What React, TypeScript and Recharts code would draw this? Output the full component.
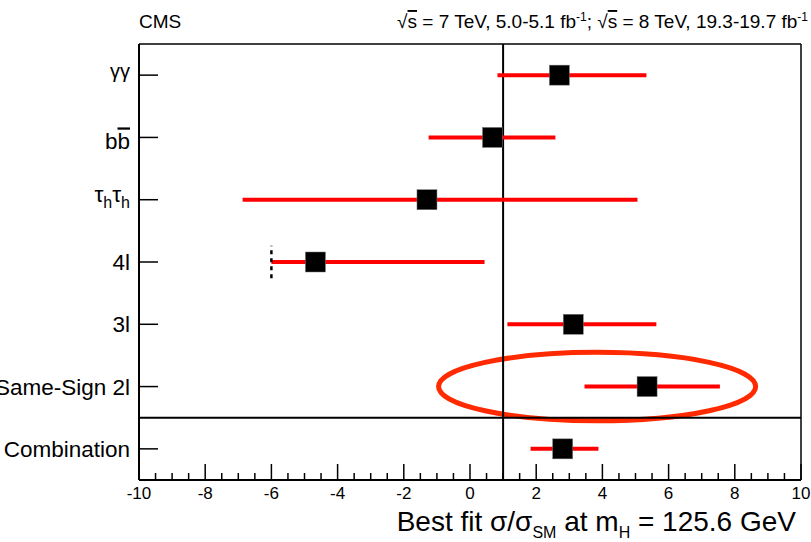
import { ScatterChart, Scatter, XAxis, YAxis, ErrorBar, ReferenceLine, ReferenceArea } from "recharts"

// channels, top to bottom
const channels = ["γγ", "bb", "ττ", "4l", "3l", "Same-Sign 2l", "Combination"]
const rowPos = [6.5, 5.5, 4.5, 3.5, 2.5, 1.5, 0.5]
const bestFit = [2.7, 0.68, -1.3, -4.67, 3.12, 5.35, 2.8]
const lowEdge = [0.83, -1.25, -6.87, -6.0, 1.13, 3.46, 1.83]
const highEdge = [5.33, 2.58, 5.06, 0.44, 5.63, 7.55, 3.88]

const majorTicks = [-10, -8, -6, -4, -2, 0, 2, 4, 6, 8, 10]
const allTicks = [
  -10, -9.5, -9, -8.5, -8, -7.5, -7, -6.5, -6, -5.5, -5, -4.5, -4, -3.5, -3, -2.5, -2, -1.5, -1, -0.5,
  0, 0.5, 1, 1.5, 2, 2.5, 3, 3.5, 4, 4.5, 5, 5.5, 6, 6.5, 7, 7.5, 8, 8.5, 9, 9.5, 10
]

const rows = channels.map((name, i) => ({
  name,
  x: bestFit[i],
  y: rowPos[i],
  err: [bestFit[i] - lowEdge[i], highEdge[i] - bestFit[i]]
}))

const FONT = '"Liberation Sans", Arial, Helvetica, sans-serif'

const XTick = (props: any) => {
  const { x, y, payload } = props
  const v = payload.value
  const major = majorTicks.includes(v)
  return (
    <g>
      <line x1={x} x2={x} y1={y} y2={y - (major ? 16 : 7)} stroke="#000" strokeWidth={1.5} />
      {major && (
        <text x={x} y={y + 19} textAnchor="middle" fontSize={17} fontFamily={FONT} fill="#000">
          {v}
        </text>
      )}
    </g>
  )
}

const YTick = (props: any) => {
  const { x, y, payload } = props
  const idx = rowPos.indexOf(payload.value)
  const name = channels[idx]
  const tx = x - 9
  let label: any
  if (name === "γγ") {
    label = <text x={tx} y={y + 3} textAnchor="end" fontSize={20} fontFamily={FONT}>γγ</text>
  } else if (name === "bb") {
    label = (
      <text x={tx} y={y + 12} textAnchor="end" fontSize={22.5} fontFamily={FONT}>
        b<tspan style={{ textDecoration: "overline" }}>b</tspan>
      </text>
    )
  } else if (name === "ττ") {
    label = (
      <text x={tx} y={y + 2} textAnchor="end" fontSize={22.5} fontFamily={FONT}>
        τ<tspan dy={6} fontSize={16}>h</tspan>
        <tspan dy={-6}>τ</tspan>
        <tspan dy={6} fontSize={16}>h</tspan>
      </text>
    )
  } else {
    label = <text x={tx} y={y + 8} textAnchor="end" fontSize={22.5} fontFamily={FONT}>{name}</text>
  }
  return (
    <g>
      <line x1={x} x2={x + 19} y1={y} y2={y} stroke="#000" strokeWidth={1.5} />
      {label}
    </g>
  )
}

const Box = (props: any) => {
  const { cx, cy } = props
  return <rect x={cx - 10} y={cy - 10} width={20} height={20} fill="#000" stroke="#777" strokeWidth={0.5} />
}

const Ellipse = (props: any) => {
  const { x, y, width, height } = props
  return (
    <ellipse
      cx={x + width / 2}
      cy={y + height / 2}
      rx={width / 2}
      ry={height / 2}
      fill="none"
      stroke="#ff2a00"
      strokeWidth={5}
    />
  )
}

export default function App() {
  return (
    <div style={{ position: "absolute", left: 0, top: 0, width: 811, height: 542, background: "#fff" }}>
      <ScatterChart width={811} height={542} margin={{ top: 44, right: 10, bottom: 0, left: 0 }}>
        <XAxis
          type="number"
          dataKey="x"
          domain={[-10, 10]}
          ticks={allTicks}
          interval={0}
          tickSize={0}
          tickMargin={0}
          tickLine={false}
          tick={<XTick />}
          height={62}
          axisLine={{ stroke: "#000", strokeWidth: 2 }}
        />
        <YAxis
          type="number"
          dataKey="y"
          domain={[0, 7]}
          ticks={rowPos}
          interval={0}
          tickSize={0}
          tickMargin={0}
          tickLine={false}
          tick={<YTick />}
          width={139}
          axisLine={{ stroke: "#000", strokeWidth: 2 }}
        />
        <ReferenceLine x={10} stroke="#000" strokeWidth={1.5} />
        <ReferenceLine y={7} stroke="#000" strokeWidth={1.5} />
        <ReferenceLine x={1} stroke="#000" strokeWidth={2} />
        <ReferenceLine y={1} stroke="#000" strokeWidth={2} />
        <Scatter data={rows} shape={() => <g />} isAnimationActive={false}>
          <ErrorBar dataKey="err" direction="x" width={0} stroke="#ff0000" strokeWidth={4} isAnimationActive={false} />
        </Scatter>
        <ReferenceLine
          segment={[{ x: -6, y: 3.24 }, { x: -6, y: 3.76 }]}
          stroke="#000"
          strokeWidth={2.5}
          strokeDasharray="4 4"
        />
        <Scatter data={rows} shape={<Box />} isAnimationActive={false} />
        <ReferenceArea x1={-0.95} x2={8.63} y1={0.95} y2={2.05} shape={<Ellipse />} />
      </ScatterChart>
      <svg width={811} height={542} style={{ position: "absolute", left: 0, top: 0, pointerEvents: "none" }}>
        <text x={139} y={28} fontSize={19} fontFamily={FONT}>CMS</text>
        <text x={808} y={28} textAnchor="end" fontSize={19} fontFamily={FONT}>
          √<tspan style={{ textDecoration: "overline" }}>s</tspan> = 7 TeV, 5.0-5.1 fb
          <tspan dy={-7} fontSize={12}>-1</tspan>
          <tspan dy={7}>; √</tspan>
          <tspan style={{ textDecoration: "overline" }}>s</tspan> = 8 TeV, 19.3-19.7 fb
          <tspan dy={-7} fontSize={12}>-1</tspan>
        </text>
        <text x={796} y={531} textAnchor="end" fontSize={28} fontFamily={FONT}>
          Best fit σ/σ<tspan dy={7} fontSize={16}>SM</tspan>
          <tspan dy={-7}> at m</tspan>
          <tspan dy={7} fontSize={16}>H</tspan>
          <tspan dy={-7}> = 125.6 GeV</tspan>
        </text>
      </svg>
    </div>
  )
}
